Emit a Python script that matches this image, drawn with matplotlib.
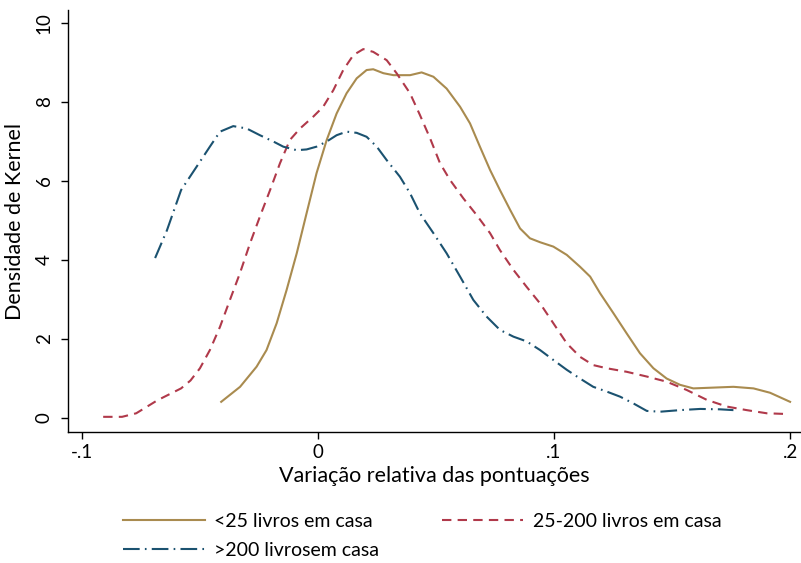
import matplotlib
matplotlib.use("Agg")
import matplotlib.pyplot as plt

plt.rcParams['font.family'] = ['Lato', 'DejaVu Sans']

# <25 livros em casa
x_low = [-0.041, -0.033, -0.026, -0.0218, -0.0175, -0.0133, -0.0090, -0.0048, -0.0006, 0.0037,
         0.0079, 0.0121, 0.0164, 0.0206, 0.0234, 0.0277, 0.032, 0.0347, 0.039, 0.0439,
         0.0489, 0.0545, 0.0602, 0.0644, 0.0686, 0.0729, 0.0771, 0.0814, 0.0856, 0.0898,
         0.0941, 0.0997, 0.1054, 0.111, 0.1153, 0.1195, 0.1252, 0.1308, 0.1364, 0.1421,
         0.1477, 0.1534, 0.159, 0.1675, 0.176, 0.1845, 0.1915, 0.200]
y_low = [0.41, 0.79, 1.30, 1.72, 2.40, 3.24, 4.17, 5.19, 6.20, 7.04,
         7.71, 8.22, 8.60, 8.81, 8.83, 8.73, 8.68, 8.68, 8.68, 8.75,
         8.64, 8.34, 7.88, 7.46, 6.87, 6.28, 5.77, 5.27, 4.80, 4.55,
         4.45, 4.34, 4.13, 3.83, 3.58, 3.16, 2.65, 2.14, 1.64, 1.26,
         1.00, 0.84, 0.75, 0.77, 0.79, 0.75, 0.64, 0.41]

# 25-200 livros em casa
x_mid = [-0.091, -0.083, -0.077, -0.068, -0.058, -0.054, -0.050, -0.0458, -0.0415, -0.0373,
         -0.0331, -0.0288, -0.0246, -0.0203, -0.0161, -0.0119, -0.0076, -0.002, 0.0022, 0.0065,
         0.0107, 0.015, 0.0192, 0.0234, 0.0291, 0.0333, 0.039, 0.0432, 0.0475, 0.0517,
         0.0559, 0.0616, 0.0672, 0.0729, 0.0771, 0.0828, 0.0884, 0.0941, 0.0997, 0.1054,
         0.111, 0.1166, 0.1223, 0.1308, 0.1393, 0.1477, 0.1562, 0.1647, 0.1732, 0.1816,
         0.1901, 0.1993]
y_mid = [0.03, 0.03, 0.12, 0.45, 0.75, 0.95, 1.26, 1.72, 2.31, 2.99,
         3.66, 4.42, 5.10, 5.77, 6.45, 7.04, 7.33, 7.63, 7.88, 8.30,
         8.81, 9.19, 9.34, 9.27, 9.06, 8.73, 8.22, 7.67, 7.08, 6.45,
         6.03, 5.56, 5.14, 4.68, 4.25, 3.75, 3.32, 2.90, 2.40, 1.89,
         1.55, 1.34, 1.26, 1.17, 1.05, 0.92, 0.71, 0.46, 0.29, 0.20,
         0.12, 0.10]

# >200 livros em casa
x_high = [-0.069, -0.064, -0.058, -0.050, -0.0458, -0.0415, -0.0359, -0.0302, -0.0246, -0.0189,
          -0.0147, -0.009, -0.0048, -0.0006, 0.0037, 0.0079, 0.0121, 0.0164, 0.0206, 0.0249,
          0.0291, 0.0347, 0.039, 0.0432, 0.0489, 0.0545, 0.0602, 0.0658, 0.0714, 0.0771,
          0.0828, 0.0884, 0.0941, 0.0997, 0.1054, 0.111, 0.1166, 0.1223, 0.128, 0.1336,
          0.1393, 0.145, 0.1534, 0.1619, 0.1703, 0.176]
y_high = [4.05, 4.75, 5.77, 6.49, 6.87, 7.25, 7.39, 7.33, 7.16, 7.00,
          6.87, 6.78, 6.80, 6.87, 7.00, 7.16, 7.25, 7.22, 7.12, 6.87,
          6.53, 6.11, 5.69, 5.18, 4.68, 4.17, 3.58, 2.99, 2.57, 2.23,
          2.06, 1.94, 1.72, 1.47, 1.22, 1.00, 0.79, 0.67, 0.54, 0.37,
          0.18, 0.16, 0.20, 0.23, 0.22, 0.20]

labels = ["<25 livros em casa", "25-200 livros em casa", ">200 livrosem casa"]
xticks = [-0.1, 0, 0.1, 0.2]
xticklabels = ["-.1", "0", ".1", ".2"]
yticks = [0, 2, 4, 6, 8, 10]

c_low = "#A98B4F"
c_mid = "#B0394A"
c_high = "#1B5270"

fig = plt.figure(figsize=(8.01, 5.63), dpi=100)
ax = fig.add_axes([68/801, 131/563, (800-68)/801, (432-10)/563])

lw = 1.5
l1, = ax.plot(x_low, y_low, color=c_low, lw=lw, solid_joinstyle='round')
l2, = ax.plot(x_mid, y_mid, color=c_mid, lw=lw, dashes=(4.5, 3))
l3, = ax.plot(x_high, y_high, color=c_high, lw=lw, dashes=(8, 2.5, 0.8, 2.5))

ax.set_xlim(-0.1059, 0.2042)
ax.set_ylim(-0.354, 10.33)
ax.set_xticks(xticks)
ax.set_xticklabels(xticklabels)
ax.set_yticks(yticks)
ax.set_yticklabels([str(v) for v in yticks], rotation=90, va='center')

for s in ['top', 'right']:
    ax.spines[s].set_visible(False)
for s in ['left', 'bottom']:
    ax.spines[s].set_linewidth(1.0)
    ax.spines[s].set_color('black')
ax.tick_params(axis='both', direction='out', length=5, width=1, labelsize=13.5, colors='black')
ax.tick_params(axis='y', pad=6)

ax.set_xlabel("Variação relativa das pontuações", fontsize=15.5, labelpad=4)
ax.set_ylabel("Densidade de Kernel", fontsize=15.5, labelpad=8)

handles = [l1, l3, l2]
leg_labels = [labels[0], labels[2], labels[1]]
fig.legend(handles, leg_labels, loc='upper left', bbox_to_anchor=(123/801, (563-513)/563),
           ncol=2, frameon=False, fontsize=14, handlelength=4.2, handletextpad=0.5,
           columnspacing=3.2, labelspacing=0.62, borderpad=0, borderaxespad=0)

fig.savefig("out.png", dpi=100)
